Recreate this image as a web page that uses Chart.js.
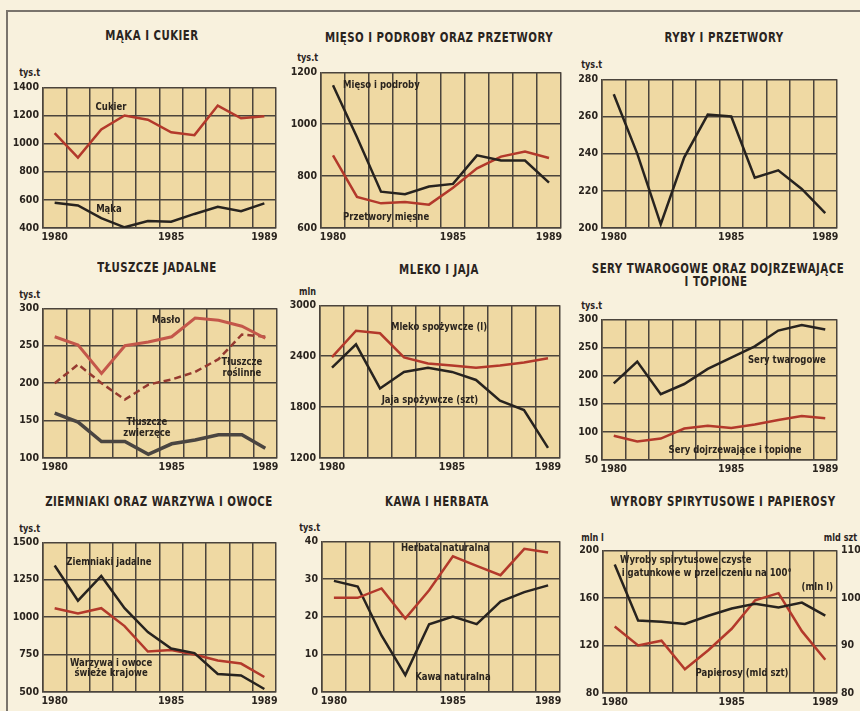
<!DOCTYPE html>
<html>
<head>
<meta charset="utf-8">
<script src="https://cdn.jsdelivr.net/npm/chart.js@4.4.1/dist/chart.umd.min.js"></script>
<style>
  body { margin: 0; width: 860px; height: 711px; background: #f8f1dd; position: relative; overflow: hidden;
         font-family: "Liberation Sans Narrow", "DejaVu Sans Condensed", "Liberation Sans", sans-serif; }
  #ramka { position: absolute; left: 6px; top: 10px; right: -4px; bottom: -4px; border-left: 2px solid #7a746c; border-top: 2px solid #7a746c; }
  .tytul { position: absolute; width: 400px; font-weight: bold; font-size: 14px; color: #2a241e; text-align: center; white-space: nowrap; letter-spacing: 0.6px; line-height: 14px; transform: scaleX(0.81); transform-origin: 50% 50%; }
  .jedn { position: absolute; font-weight: bold; font-size: 10px; color: #2a241e; white-space: nowrap; line-height: 10px; transform: scaleX(0.9); }
  canvas { position: absolute; }
</style>
</head>
<body>
<div id="ramka"></div>
<script>
// dane (lata 1980-1989)
var lata = ['1980', '1981', '1982', '1983', '1984', '1985', '1986', '1987', '1988', '1989'];
var lataOpisane = ['1980', '1985', '1989'];

var cukier = [1075, 900, 1100, 1200, 1170, 1080, 1060, 1270, 1180, 1195];
var maka = [580, 560, 470, 405, 450, 445, 500, 550, 520, 575];

var miesoPodroby = [1150, 950, 740, 730, 760, 770, 880, 860, 860, 775];
var przetworyMiesne = [880, 720, 695, 700, 690, 755, 830, 875, 895, 870];

var ryby = [272, 240, 202, 238, 261, 260, 227, 231, 221, 208];

var maslo = [262, 251, 213, 250, 255, 262, 287, 284, 276, 260];
var tluszczeRoslinne = [200, 225, 200, 178, 198, 205, 215, 232, 265, 262];
var tluszczeZwierzece = [160, 148, 122, 122, 105, 119, 124, 131, 131, 113];

var mleko = [2390, 2700, 2670, 2385, 2315, 2290, 2265, 2290, 2325, 2375];
var jaja = [2265, 2540, 2020, 2215, 2265, 2215, 2120, 1875, 1765, 1320];

var seryTwarogowe = [186, 225, 167, 185, 212, 232, 252, 280, 290, 282];
var seryDojrzewajace = [93, 83, 88, 106, 111, 107, 113, 121, 128, 124];

var ziemniaki = [1345, 1110, 1275, 1060, 900, 790, 760, 620, 610, 520];
var warzywaOwoce = [1060, 1025, 1060, 940, 770, 780, 750, 710, 690, 600];

var herbata = [25, 25, 27.5, 19.5, 27, 36, 33.5, 31, 38, 37];
var kawa = [29.5, 28, 15, 4.5, 18, 20, 18, 24, 26.5, 28.3];

var spirytus = [188, 141, 140, 138, 145, 151, 155, 152, 156, 145];
var papierosy = [94, 90, 91, 85, 89, 93.5, 99.5, 101, 93, 87];

var CZERWONY = '#b3392b';
var CZARNY = '#27231f';
var SIATKA = '#4b443c';
var TLO = '#efd9a3';
var TEKST = '#2a241e';
var FONT = '"Liberation Sans Narrow", "DejaVu Sans Condensed", "Liberation Sans", sans-serif';

var tytuly = [
  { t: 'MĄKA I CUKIER', cx: 152, y: 28 },
  { t: 'MIĘSO I PODROBY ORAZ PRZETWORY', cx: 439, y: 30 },
  { t: 'RYBY I PRZETWORY', cx: 724, y: 30 },
  { t: 'TŁUSZCZE JADALNE', cx: 157, y: 260 },
  { t: 'MLEKO I JAJA', cx: 439, y: 262 },
  { t: 'SERY TWAROGOWE ORAZ DOJRZEWAJĄCE', cx: 718, y: 261 },
  { t: 'I  TOPIONE', cx: 716, y: 274 },
  { t: 'ZIEMNIAKI ORAZ WARZYWA I OWOCE', cx: 159, y: 494 },
  { t: 'KAWA I HERBATA', cx: 437, y: 494 },
  { t: 'WYROBY SPIRYTUSOWE I PAPIEROSY', cx: 723, y: 494 }
];

var jednostki = [
  { t: 'tys.t', x: 18, y: 68 },
  { t: 'tys.t', x: 296, y: 53 },
  { t: 'tys.t', x: 580, y: 60 },
  { t: 'tys.t', x: 18, y: 290 },
  { t: 'mln', x: 298, y: 287 },
  { t: 'tys.t', x: 580, y: 301 },
  { t: 'tys.t', x: 18, y: 524 },
  { t: 'tys.t', x: 298, y: 523 },
  { t: 'mln l', x: 580, y: 533 },
  { t: 'mld szt', x: 822, y: 533 }
];

tytuly.forEach(function (o) {
  var d = document.createElement('div');
  d.className = 'tytul';
  d.textContent = o.t;
  d.style.left = (o.cx - 200) + 'px';
  d.style.top = o.y + 'px';
  document.body.appendChild(d);
});
jednostki.forEach(function (o) {
  var d = document.createElement('div');
  d.className = 'jedn';
  d.textContent = o.t;
  d.style.left = o.x + 'px';
  d.style.top = o.y + 'px';
  document.body.appendChild(d);
});

function linia(dane, kolor, opcje) {
  var ds = {
    data: dane,
    borderColor: kolor,
    borderWidth: 2.5,
    pointRadius: 0,
    tension: 0,
    fill: false
  };
  return Object.assign(ds, opcje || {});
}

var panele = [
  { rect: [43, 87, 276, 228], y: [400, 1400, 200],
    serie: [linia(cukier, CZERWONY), linia(maka, CZARNY)],
    napisy: [{ t: 'Cukier', x: 2.42, y: 1258 }, { t: 'Mąka', x: 2.33, y: 535 }] },
  { rect: [321, 72, 561, 228], y: [600, 1200, 200],
    serie: [linia(miesoPodroby, CZARNY), linia(przetworyMiesne, CZERWONY)],
    napisy: [{ t: 'Mięso i podroby', x: 0.42, y: 1150, a: 'left' }, { t: 'Przetwory mięsne', x: 0.42, y: 642, a: 'left' }] },
  { rect: [602, 79, 837, 228], y: [200, 280, 20],
    serie: [linia(ryby, CZARNY)],
    napisy: [] },
  { rect: [43, 308, 277, 458], y: [100, 300, 50],
    serie: [
      linia(maslo, '#c4574a', { borderWidth: 3 }),
      linia(tluszczeRoslinne, '#963a30', { borderDash: [7, 4] }),
      linia(tluszczeZwierzece, '#4a4541', { borderWidth: 3.5 })
    ],
    napisy: [
      { t: 'Masło', x: 4.76, y: 284 },
      { t: 'Tłuszcze', x: 8.0, y: 228 }, { t: 'roślinne', x: 8.0, y: 213 },
      { t: 'Tłuszcze', x: 3.94, y: 148 }, { t: 'zwierzęce', x: 3.94, y: 133 }
    ] },
  { rect: [320, 305, 560, 458], y: [1200, 3000, 600],
    serie: [linia(mleko, CZERWONY), linia(jaja, CZARNY)],
    napisy: [{ t: 'Mleko spożywcze (l)', x: 4.46, y: 2741 }, { t: 'Jaja spożywcze (szt)', x: 4.08, y: 1882 }] },
  { rect: [602, 319, 837, 460], y: [50, 300, 50],
    serie: [linia(seryTwarogowe, CZARNY), linia(seryDojrzewajace, CZERWONY)],
    napisy: [{ t: 'Sery twarogowe', x: 7.37, y: 227 }, { t: 'Sery dojrzewające i topione', x: 5.16, y: 68 }] },
  { rect: [43, 542, 276, 692], y: [500, 1500, 250],
    serie: [linia(ziemniaki, CZARNY), linia(warzywaOwoce, CZERWONY)],
    napisy: [
      { t: 'Ziemniaki jadalne', x: 2.33, y: 1367 },
      { t: 'Warzywa i owoce', x: 2.42, y: 693 }, { t: 'świeże krajowe', x: 2.42, y: 627 }
    ] },
  { rect: [322, 541, 560, 692], y: [0, 40, 10],
    serie: [linia(herbata, CZERWONY), linia(kawa, CZARNY)],
    napisy: [{ t: 'Herbata naturalna', x: 4.67, y: 38.1 }, { t: 'Kawa naturalna', x: 5.0, y: 4 }] },
  { rect: [603, 550, 837, 693], y: [80, 200, 40], y1: [80, 110, 10],
    serie: [linia(spirytus, CZARNY), linia(papierosy, CZERWONY, { yAxisID: 'y1' })],
    napisy: [
      { t: 'Wyroby spirytusowe czyste', x: 0.23, y: 191.6, a: 'left' },
      { t: 'i gatunkowe w przeliczeniu na 100°', x: 0.3, y: 180.7, a: 'left' },
      { t: '(mln l)', x: 9.33, y: 169, a: 'right' },
      { t: 'Papierosy (mld szt)', x: 5.44, y: 96.7 }
    ] }
];

var tloWykresu = {
  id: 'tloWykresu',
  beforeDraw: function (chart) {
    var a = chart.chartArea, ctx = chart.ctx;
    ctx.save();
    ctx.fillStyle = TLO;
    ctx.fillRect(a.left, a.top, a.right - a.left, a.bottom - a.top);
    ctx.restore();
  }
};

// napisy przy liniach, zwezone jak w oryginale
var napisy = {
  id: 'napisy',
  afterDatasetsDraw: function (chart, args, opts) {
    var ctx = chart.ctx, sx = chart.scales.x, sy = chart.scales.y;
    (opts.lista || []).forEach(function (n) {
      ctx.save();
      ctx.font = 'bold 11px ' + FONT;
      ctx.fillStyle = TEKST;
      ctx.textAlign = n.a || 'center';
      ctx.textBaseline = 'middle';
      var sz = ctx.measureText(n.t).width * 0.86;
      ctx.fillText(n.t, sx.getPixelForValue(n.x), sy.getPixelForValue(n.y), sz);
      ctx.restore();
    });
  }
};

var OS_Y = 40, OS_X = 18, GORA = 10, OS_Y1 = 28;

panele.forEach(function (p) {
  var w = p.rect[2] - p.rect[0], h = p.rect[3] - p.rect[1];
  var prawa = p.y1 ? OS_Y1 : 6;
  var c = document.createElement('canvas');
  c.width = w + OS_Y + prawa;
  c.height = h + GORA + OS_X;
  c.style.left = (p.rect[0] - OS_Y) + 'px';
  c.style.top = (p.rect[1] - GORA) + 'px';
  document.body.appendChild(c);

  var czcionka = { family: FONT, size: 10.5, weight: 'bold' };
  var skale = {
    x: {
      type: 'category',
      offset: true,
      grid: { offset: true, color: SIATKA, lineWidth: 1.5, drawTicks: false },
      border: { color: SIATKA, width: 1.5 },
      ticks: {
        color: TEKST, font: czcionka, padding: 3, autoSkip: false, maxRotation: 0,
        callback: function (v) { var l = this.getLabelForValue(v); return lataOpisane.indexOf(l) >= 0 ? l : ''; }
      },
      afterFit: function (s) { s.height = OS_X; }
    },
    y: {
      min: p.y[0], max: p.y[1],
      grid: { color: SIATKA, lineWidth: 1.5, drawTicks: false },
      border: { color: SIATKA, width: 1.5 },
      ticks: { stepSize: p.y[2], color: TEKST, font: czcionka, padding: 4, callback: function (v) { return String(v); } },
      afterFit: function (s) { s.width = OS_Y; }
    }
  };
  if (p.y1) {
    skale.y1 = {
      position: 'right',
      min: p.y1[0], max: p.y1[1],
      grid: { display: false, drawTicks: false },
      border: { display: false },
      ticks: { stepSize: p.y1[2], color: TEKST, font: czcionka, padding: 4, callback: function (v) { return String(v); } },
      afterFit: function (s) { s.width = OS_Y1; }
    };
  }

  new Chart(c.getContext('2d'), {
    type: 'line',
    data: { labels: lata, datasets: p.serie },
    options: {
      responsive: false,
      animation: false,
      layout: { padding: { top: GORA, right: p.y1 ? 0 : prawa, left: 0, bottom: 0 } },
      scales: skale,
      plugins: {
        legend: { display: false },
        tooltip: { enabled: false },
        napisy: { lista: p.napisy }
      }
    },
    plugins: [tloWykresu, napisy]
  });
});
</script>
</body>
</html>
